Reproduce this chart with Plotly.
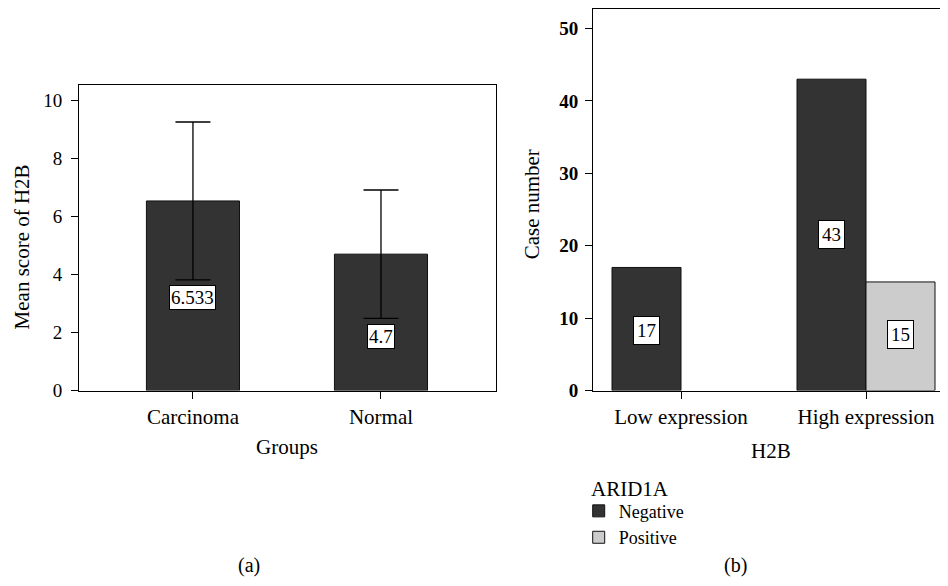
import plotly.graph_objects as go

# ---- data: panel (a)
groups = ["Carcinoma", "Normal"]
mean_scores = [6.533, 4.7]
score_err = [2.72, 2.21]
score_labels = ["6.533", "4.7"]
score_label_y = [3.2, 1.88]

# ---- data: panel (b)
expr_levels = ["Low expression", "High expression"]
arid_negative = [17, 43]
arid_positive = [0, 15]
neg_label_y = [8.33, 21.6]
pos_label_y = [None, 7.74]

FONT = "Liberation Serif"
# page offset / vertical scale observed in the rendering environment
OFF = 8
SY = 0.98
W, H = 948 - 2 * OFF, 580


def px_x(p):
    """target window x (px) -> paper fraction"""
    return (p - OFF) / W


def px_y(p):
    """target window y (px, from top) -> paper fraction"""
    return (H - (p / SY - OFF)) / H


def nz(vals):
    return [v if v else None for v in vals]


fig = go.Figure()

fig.add_trace(go.Bar(
    x=groups, y=mean_scores, width=0.495,
    marker=dict(color="#333333", line=dict(color="#111111", width=1)),
    error_y=dict(type="data", array=score_err, visible=True, color="black",
                 thickness=1.3, width=17.5),
    xaxis="x", yaxis="y", showlegend=False, hoverinfo="skip",
))

bw = 0.373
cat_px = 185.0
fig.add_trace(go.Bar(
    x=expr_levels, y=nz(arid_negative), name="Negative", width=bw, offset=-bw,
    marker=dict(color="#333333", line=dict(color="#111111", width=1)),
    xaxis="x2", yaxis="y2", hoverinfo="skip",
))
fig.add_trace(go.Bar(
    x=expr_levels, y=nz(arid_positive), name="Positive", width=bw, offset=0,
    marker=dict(color="#cccccc", line=dict(color="#111111", width=1)),
    xaxis="x2", yaxis="y2", hoverinfo="skip",
))

ann = []
lab_font = dict(family=FONT, size=19, color="black")
for g, t, yv in zip(groups, score_labels, score_label_y):
    ann.append(dict(x=g, y=yv, xref="x", yref="y", text=t, showarrow=False,
                    bgcolor="white", bordercolor="black", borderwidth=1, borderpad=1,
                    font=lab_font))
for g, v, yv in zip(expr_levels, arid_negative, neg_label_y):
    if yv is not None and v:
        ann.append(dict(x=g, y=yv, xref="x2", yref="y2", xshift=-bw * cat_px / 2,
                        text=str(v), showarrow=False, bgcolor="white",
                        bordercolor="black", borderwidth=1, borderpad=3, font=lab_font))
for g, v, yv in zip(expr_levels, arid_positive, pos_label_y):
    if yv is not None and v:
        ann.append(dict(x=g, y=yv, xref="x2", yref="y2", xshift=bw * cat_px / 2,
                        text=str(v), showarrow=False, bgcolor="white",
                        bordercolor="black", borderwidth=1, borderpad=3, font=lab_font))


def paper_text(x, y, text, angle=0, size=21, xanchor="center"):
    return dict(x=px_x(x), y=px_y(y), xref="paper", yref="paper", text=text,
                textangle=angle, showarrow=False, xanchor=xanchor, yanchor="middle",
                font=dict(family=FONT, size=size, color="black"))


ann += [
    paper_text(22, 247, "Mean score of H2B", angle=-90),
    paper_text(287, 446, "Groups"),
    paper_text(532, 204, "Case number", angle=-90),
    paper_text(770.5, 450, "H2B"),
    paper_text(249, 565, "(a)", size=20),
    paper_text(735, 565, "(b)", size=20),
    paper_text(589, 488, "ARID1A", xanchor="left"),
]

axis_common = dict(showline=True, linecolor="black", linewidth=1, ticks="outside",
                   ticklen=7, tickcolor="black", showgrid=False, zeroline=False)
cat_font = dict(family=FONT, size=21, color="black")
num_font = dict(family=FONT, size=19, color="black")
num_font_b = dict(family=FONT, size=19, color="black", weight="bold")

fig.update_layout(
    width=W, height=H, margin=dict(l=0, r=0, t=0, b=0),
    paper_bgcolor="white", plot_bgcolor="white",
    barmode="group",
    font=dict(family=FONT, size=19, color="black"),
    xaxis=dict(domain=[px_x(79), px_x(495.7)], range=[-0.606, 1.61], mirror=True,
               anchor="y", tickfont=cat_font, **axis_common),
    yaxis=dict(domain=[px_y(390), px_y(85)], range=[0, 10.52], dtick=2, mirror=True,
               anchor="x", tickfont=num_font, ticklabelstandoff=5, **axis_common),
    xaxis2=dict(domain=[px_x(593), 1.0], range=[-88 / cat_px, 1 + (940 - 866) / cat_px],
                mirror=True, anchor="y2", tickfont=cat_font, **axis_common),
    yaxis2=dict(domain=[px_y(390), px_y(9)], range=[0, 52.67], dtick=10,
                anchor="x2", tickfont=num_font_b, ticklabelstandoff=3, **axis_common),
    annotations=ann,
    showlegend=True,
    legend=dict(x=px_x(578.7), y=px_y(492), xanchor="left", yanchor="top",
                font=dict(family=FONT, size=18, color="black"),
                bgcolor="rgba(0,0,0,0)", tracegroupgap=0, itemwidth=30),
)

fig.write_html("out.html")
